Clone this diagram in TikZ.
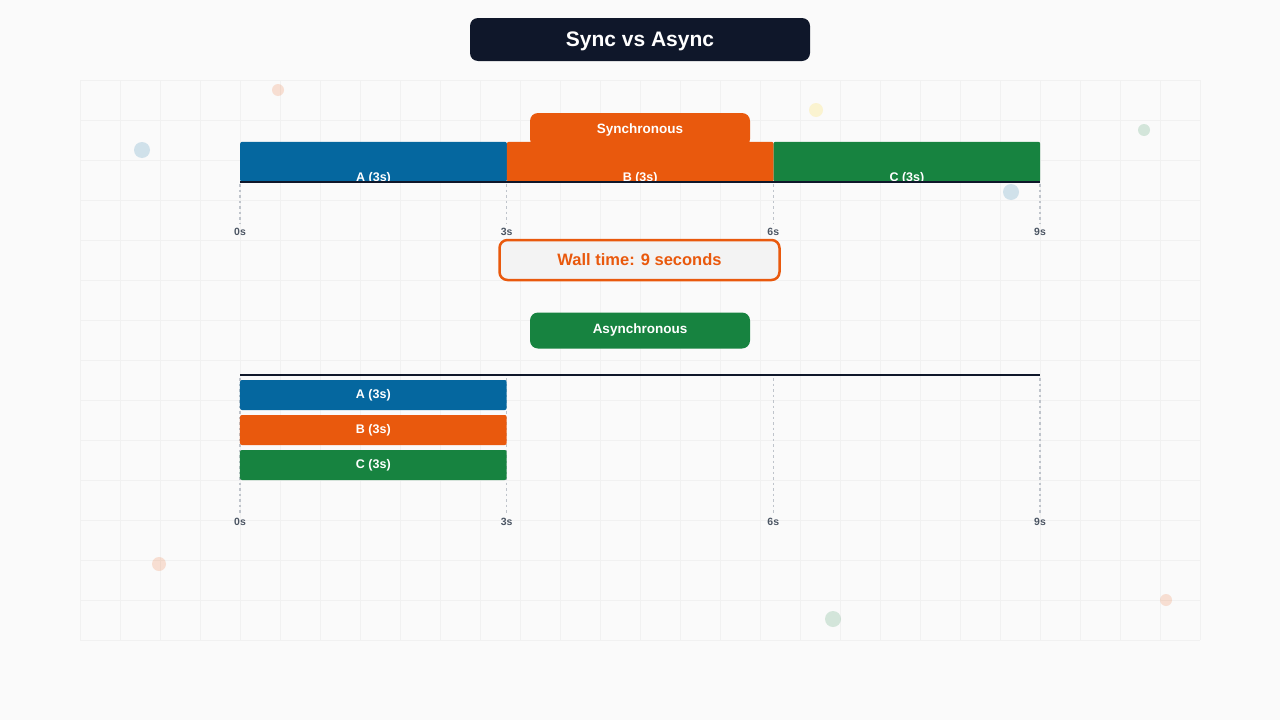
\documentclass[tikz,border=0pt]{standalone}
\usepackage{fontspec}
\setmainfont{Liberation Sans}
\usetikzlibrary{positioning}

\definecolor{navy}{HTML}{0F172A}
\definecolor{jobblue}{HTML}{05679F}
\definecolor{joborange}{HTML}{E9590D}
\definecolor{jobgreen}{HTML}{178340}
\definecolor{tickgray}{HTML}{BFC4CB}
\definecolor{ticktext}{HTML}{4B5563}
\definecolor{gridgray}{HTML}{F1F1F1}
\definecolor{bggray}{HTML}{FAFAFA}
\definecolor{wallfill}{HTML}{F3F3F3}

\tikzset{bar/.style = {rectangle, rounded corners=2pt, inner sep=0pt, text=white,
                       font=\bfseries\fontsize{12.5}{14}\selectfont},
         tab/.style = {rectangle, rounded corners=8pt, minimum width=220pt, inner sep=0pt,
                       text=white, font=\bfseries\fontsize{13.5}{15}\selectfont},
         gridline/.style = {gridgray, line width=0.7pt},
         tickline/.style = {tickgray, line width=1.3pt, dash pattern=on 2.5pt off 3pt},
         ticklabel/.style = {inner sep=0pt, text=ticktext, font=\bfseries\fontsize{10.5}{12}\selectfont},
         axis/.style = {navy, line width=2pt}
        }

\begin{document}
\begin{tikzpicture}[x=1pt, y=-1pt]
  \fill[bggray] (0,0) rectangle (1280,720);
  \foreach \x in {80,120,...,1200} {\draw[gridline] (\x,80) -- (\x,640);};
  \foreach \y in {80,120,...,640} {\draw[gridline] (80,\y) -- (1200,\y);};
  \foreach \x/\y/\r/\c in {142/150/8/jobblue, 278/90/6/joborange, 816/110/7/yellow!70!orange,
                           1144/130/6/jobgreen, 1011/192/8/jobblue, 159/564/7/joborange,
                           833/619/8/jobgreen, 1166/600/6/joborange}
      {\fill[\c, opacity=0.17] (\x,\y) circle[radius=\r pt];};

  % title
  \node[rectangle, rounded corners=8pt, fill=navy, text=white, minimum width=340pt,
        minimum height=43pt, text height=17pt, text depth=3pt,
        font=\bfseries\fontsize{21}{24}\selectfont] (title) at (640,39.5) {Sync vs Async};

  % synchronous run
  \node[tab, fill=joborange, minimum height=34pt] (synctab) at (640,130) {Synchronous};
  \foreach \n/\c/\i in {A/jobblue/0, B/joborange/1, C/jobgreen/2}
      {\node[bar, fill=\c, minimum width=266.67pt, minimum height=40pt, anchor=south west]
            (sync\n) at (240+266.67*\i,182) {};};
  \begin{scope}
    \clip (240,140) rectangle (1040,182);
    \foreach \n in {A,B,C} {\node[bar] (synclabel\n) at ([yshift=3.5pt]sync\n.south) {\n\ (3s)};};
  \end{scope}
  \draw[axis] (syncA.south west) -- (syncC.south east);
  \foreach \t/\x in {0/240, 3/506.67, 6/773.33, 9/1040}
      {\node[ticklabel] (synctick\t) at (\x,231.5) {\t s};
       \draw[tickline] (\x,184) -- ([yshift=5pt]synctick\t.north);};

  \node[rectangle, rounded corners=8pt, draw=joborange, line width=2.5pt, fill=wallfill,
        minimum width=280pt, minimum height=40pt, text=joborange,
        font=\bfseries\fontsize{16.5}{19}\selectfont] (wall) at (639.5,260) {Wall time: 9 seconds};

  % asynchronous run
  \node[tab, fill=jobgreen, minimum height=36pt] (asynctab) at (640,330.5) {Asynchronous};
  \foreach \t/\x in {0/240, 3/506.67, 6/773.33, 9/1040}
      {\node[ticklabel] (asynctick\t) at (\x,521.5) {\t s};
       \draw[tickline] (\x,378) -- ([yshift=5pt]asynctick\t.north);};
  \foreach \n/\c/\y in {A/jobblue/396, B/joborange/431, C/jobgreen/466}
      {\node[bar, fill=\c, minimum width=266.67pt, minimum height=30pt] (async\n) at (373.33,\y-1) {\n\ (3s)};};
  \coordinate (astart) at (240,375);
  \coordinate (aend) at (1040,375);
  \draw[axis] (astart) -- (aend);
\end{tikzpicture}
\end{document}
